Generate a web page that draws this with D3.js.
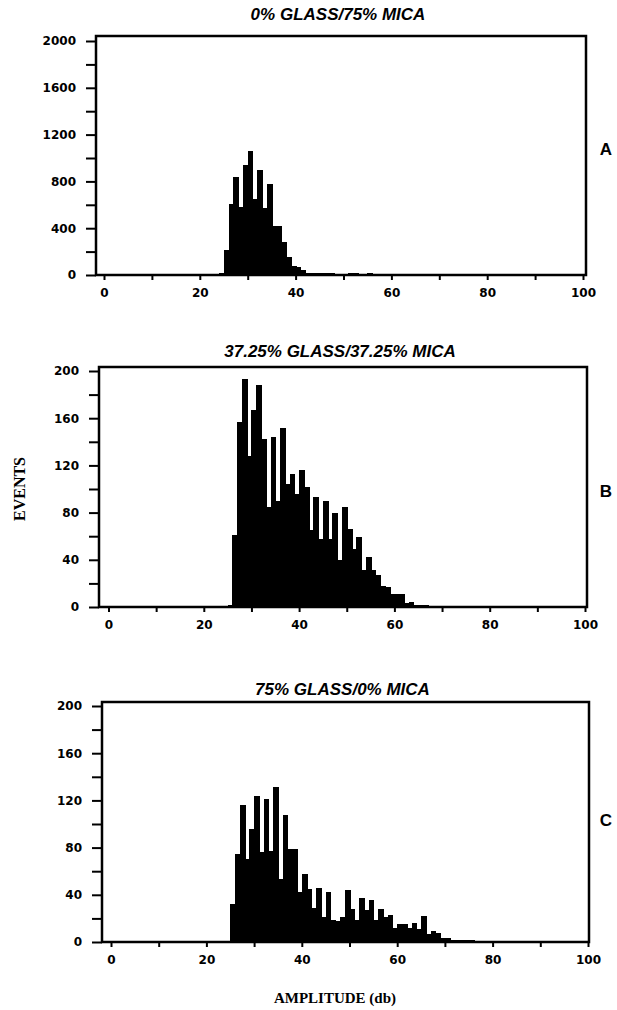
<!DOCTYPE html>
<html>
<head>
<meta charset="utf-8">
<script src="https://cdn.jsdelivr.net/npm/d3@7"></script>
<style>
  body { margin: 0; background: #fff; }
  .tick text { font-family: "DejaVu Sans", sans-serif; font-weight: bold; font-size: 12px; fill: #000; }
  .tick line { stroke: #000; stroke-width: 2; }
</style>
</head>
<body>
<svg id="chart" width="617" height="1010"></svg>
<script>
// panel titles / letters
const titles = ["0% GLASS/75% MICA", "37.25% GLASS/37.25% MICA", "75% GLASS/0% MICA"];
const panelLetters = ["A", "B", "C"];

// y axis extents and tick spacing per panel
const yMaxes = [2000, 200, 200];
const yTickSteps = [200, 20, 20];
const yLabelSteps = [400, 40, 40];

// x axis ticks (amplitude, db)
const xTicks = [0, 10, 20, 30, 40, 50, 60, 70, 80, 90, 100];
const xTickLabels = [0, 20, 40, 60, 80, 100];

// event counts, one entry per 1 db bin, first entry is bin 0
const countsA = [
  5, 5, 5, 5, 5, 5, 5, 5, 5, 5,
  5, 5, 5, 5, 5, 5, 5, 5, 5, 5,
  5, 5, 8, 10, 20, 210, 610, 840, 580, 940,
  1060, 650, 900, 570, 780, 420, 420, 280, 150, 80,
  70, 45, 20, 18, 18, 15, 15, 15, 12, 12,
  10, 15, 20, 10, 12, 20, 5
];
const countsB = [
  1, 1, 1, 1, 1, 1, 1, 1, 1, 1,
  1, 1, 1, 1, 1, 1, 1, 1, 1, 1,
  1, 1, 1, 1, 1, 2, 61, 157, 193, 128,
  167, 188, 142, 85, 144, 90, 152, 104, 113, 96,
  116, 102, 65, 93, 58, 90, 58, 80, 40, 85,
  66, 49, 59, 31, 42, 31, 27, 18, 17, 11,
  11, 11, 3, 4, 2, 2, 2, 1
];
const countsC = [
  1, 1, 1, 1, 1, 1, 1, 1, 1, 1,
  1, 1, 1, 1, 1, 1, 1, 1, 1, 1,
  1, 1, 1, 1, 1, 32, 75, 116, 70, 96,
  124, 76, 121, 77, 131, 53, 108, 79, 79, 42,
  58, 45, 29, 46, 21, 42, 19, 18, 21, 44,
  28, 19, 37, 27, 36, 19, 28, 21, 23, 12,
  15, 15, 12, 16, 11, 22, 7, 9, 8, 3,
  3, 2, 2, 2, 2, 2
];
const allCounts = [countsA, countsB, countsC];

// where each panel sits on the page
const layout = [
  { left: 96, right: 586, top: 36, x0: 104, x100: 583, yTop: 41, yBottom: 275, titleY: 20, letterY: 155 },
  { left: 99, right: 587, top: 367, x0: 108.5, x100: 585, yTop: 371, yBottom: 607, titleY: 357, letterY: 497 },
  { left: 102, right: 589, top: 702, x0: 111, x100: 588, yTop: 706, yBottom: 942, titleY: 695, letterY: 826 }
];

const svg = d3.select("#chart");

layout.forEach((L, p) => {
  const counts = allCounts[p];
  const x = d3.scaleLinear().domain([0, 100]).range([L.x0, L.x100]);
  const y = d3.scaleLinear().domain([0, yMaxes[p]]).range([L.yBottom, L.yTop]);

  const g = svg.append("g");

  // histogram bars (crisp edges so neighbouring bins merge without seams)
  g.append("g")
    .attr("shape-rendering", "crispEdges")
    .selectAll("rect")
    .data(counts)
    .enter().append("rect")
      .attr("x", (d, i) => x(i))
      .attr("width", (d, i) => x(i + 1) - x(i) + 1)
      .attr("y", d => y(d))
      .attr("height", d => L.yBottom - y(d))
      .attr("fill", "#000");

  // frame
  g.append("path")
    .attr("d", `M${L.left},${L.yBottom} V${L.top} H${L.right} V${L.yBottom} Z`)
    .attr("fill", "none")
    .attr("stroke", "#000")
    .attr("stroke-width", 2.5);

  // y axis
  const yAxis = d3.axisLeft(y)
    .tickValues(d3.range(0, yMaxes[p] + 1, yTickSteps[p]))
    .tickFormat(d => d % yLabelSteps[p] === 0 ? d : "")
    .tickSize(10)
    .tickPadding(10);
  g.append("g")
    .attr("transform", `translate(${L.left},0)`)
    .call(yAxis)
    .call(a => a.select(".domain").remove());

  // x axis
  const xAxis = d3.axisBottom(x)
    .tickValues(xTicks)
    .tickFormat(d => xTickLabels.includes(d) ? d : "")
    .tickSize(5)
    .tickPadding(8);
  g.append("g")
    .attr("transform", `translate(0,${L.yBottom})`)
    .call(xAxis)
    .call(a => a.select(".domain").remove());

  // title
  g.append("text")
    .attr("x", (L.left + L.right) / 2 - 3)
    .attr("y", L.titleY)
    .attr("text-anchor", "middle")
    .attr("font-family", "Liberation Sans, sans-serif")
    .attr("font-weight", "bold")
    .attr("font-style", "italic")
    .attr("font-size", 17)
    .text(titles[p]);

  // panel letter
  g.append("text")
    .attr("x", 606)
    .attr("y", L.letterY)
    .attr("text-anchor", "middle")
    .attr("font-family", "Liberation Sans, sans-serif")
    .attr("font-weight", "bold")
    .attr("font-size", 17)
    .text(panelLetters[p]);
});

// shared axis titles
svg.append("text")
  .attr("transform", "translate(25,489) rotate(-90)")
  .attr("text-anchor", "middle")
  .attr("font-family", "Liberation Serif, serif")
  .attr("font-weight", "bold")
  .attr("font-size", 16)
  .text("EVENTS");

svg.append("text")
  .attr("x", 335)
  .attr("y", 1003)
  .attr("text-anchor", "middle")
  .attr("font-family", "Liberation Serif, serif")
  .attr("font-weight", "bold")
  .attr("font-size", 15)
  .text("AMPLITUDE (db)");
</script>
</body>
</html>
